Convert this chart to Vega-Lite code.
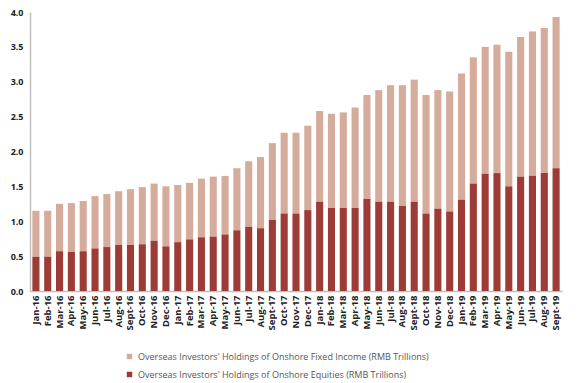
{
  "$schema": "https://vega.github.io/schema/vega-lite/v6.json",
  "autosize": {"type": "none"},
  "width": 532,
  "height": 279,
  "padding": {"left": 30, "top": 12, "right": 18, "bottom": 92},
  "background": "white",
  "config": {"view": {"stroke": null}, "font": "Open Sans"},
  "data": {"values": [
    {"month": "Jan-16", "Equities": 0.49, "Fixed Income": 0.66},
    {"month": "Feb-16", "Equities": 0.49, "Fixed Income": 0.66},
    {"month": "Mar-16", "Equities": 0.57, "Fixed Income": 0.68},
    {"month": "Apr-16", "Equities": 0.56, "Fixed Income": 0.70},
    {"month": "May-16", "Equities": 0.57, "Fixed Income": 0.72},
    {"month": "Jun-16", "Equities": 0.61, "Fixed Income": 0.75},
    {"month": "Jul-16", "Equities": 0.63, "Fixed Income": 0.76},
    {"month": "Aug-16", "Equities": 0.66, "Fixed Income": 0.77},
    {"month": "Sept-16", "Equities": 0.66, "Fixed Income": 0.80},
    {"month": "Oct-16", "Equities": 0.67, "Fixed Income": 0.82},
    {"month": "Nov-16", "Equities": 0.72, "Fixed Income": 0.82},
    {"month": "Dec-16", "Equities": 0.64, "Fixed Income": 0.86},
    {"month": "Jan-17", "Equities": 0.70, "Fixed Income": 0.82},
    {"month": "Feb-17", "Equities": 0.74, "Fixed Income": 0.81},
    {"month": "Mar-17", "Equities": 0.77, "Fixed Income": 0.84},
    {"month": "Apr-17", "Equities": 0.78, "Fixed Income": 0.86},
    {"month": "May-17", "Equities": 0.81, "Fixed Income": 0.84},
    {"month": "Jun-17", "Equities": 0.87, "Fixed Income": 0.89},
    {"month": "Jul-17", "Equities": 0.92, "Fixed Income": 0.94},
    {"month": "Aug-17", "Equities": 0.90, "Fixed Income": 1.02},
    {"month": "Sept-17", "Equities": 1.02, "Fixed Income": 1.10},
    {"month": "Oct-17", "Equities": 1.11, "Fixed Income": 1.16},
    {"month": "Nov-17", "Equities": 1.11, "Fixed Income": 1.16},
    {"month": "Dec-17", "Equities": 1.16, "Fixed Income": 1.21},
    {"month": "Jan-18", "Equities": 1.28, "Fixed Income": 1.30},
    {"month": "Feb-18", "Equities": 1.19, "Fixed Income": 1.35},
    {"month": "Mar-18", "Equities": 1.19, "Fixed Income": 1.37},
    {"month": "Apr-18", "Equities": 1.19, "Fixed Income": 1.44},
    {"month": "May-18", "Equities": 1.32, "Fixed Income": 1.49},
    {"month": "Jun-18", "Equities": 1.28, "Fixed Income": 1.60},
    {"month": "Jul-18", "Equities": 1.28, "Fixed Income": 1.67},
    {"month": "Aug-18", "Equities": 1.22, "Fixed Income": 1.73},
    {"month": "Sept-18", "Equities": 1.28, "Fixed Income": 1.75},
    {"month": "Oct-18", "Equities": 1.11, "Fixed Income": 1.70},
    {"month": "Nov-18", "Equities": 1.18, "Fixed Income": 1.70},
    {"month": "Dec-18", "Equities": 1.14, "Fixed Income": 1.72},
    {"month": "Jan-19", "Equities": 1.31, "Fixed Income": 1.81},
    {"month": "Feb-19", "Equities": 1.54, "Fixed Income": 1.81},
    {"month": "Mar-19", "Equities": 1.68, "Fixed Income": 1.82},
    {"month": "Apr-19", "Equities": 1.69, "Fixed Income": 1.84},
    {"month": "May-19", "Equities": 1.50, "Fixed Income": 1.93},
    {"month": "Jun-19", "Equities": 1.64, "Fixed Income": 2.00},
    {"month": "Jul-19", "Equities": 1.65, "Fixed Income": 2.07},
    {"month": "Aug-19", "Equities": 1.69, "Fixed Income": 2.08},
    {"month": "Sept-19", "Equities": 1.76, "Fixed Income": 2.17}
  ]},
  "transform": [{"fold": ["Fixed Income", "Equities"], "as": ["series", "value"]}],
  "mark": {"type": "bar"},
  "encoding": {
    "x": {
      "field": "month", "type": "nominal", "sort": null,
      "scale": {"paddingInner": 0.4, "paddingOuter": 0.2},
      "axis": {"title": null, "labelAngle": -90, "ticks": false, "domainColor": "#c0c0c0", "domainWidth": 1.5,
               "labelFontWeight": "bold", "labelFontSize": 9.5, "labelColor": "#222", "labelPadding": 4}
    },
    "y": {
      "field": "value", "type": "quantitative", "stack": "zero",
      "scale": {"domain": [0, 4]},
      "axis": {"title": null, "values": [0, 0.5, 1, 1.5, 2, 2.5, 3, 3.5, 4], "format": ".1f", "grid": false,
               "ticks": false, "domainColor": "#c0c0c0", "domainWidth": 1.5, "labelFontWeight": "bold",
               "labelFontSize": 9, "labelColor": "#222", "labelPadding": 7}
    },
    "color": {
      "field": "series", "type": "nominal",
      "scale": {"domain": ["Fixed Income", "Equities"], "range": ["#d5ab9b", "#9d3b36"]},
      "legend": {"title": null, "orient": "none", "legendX": 95, "legendY": 340, "symbolType": "square",
                 "symbolSize": 30, "labelFontSize": 9, "labelColor": "#555", "rowPadding": 8, "labelLimit": 0,
                 "labelExpr": "\"Overseas Investors' Holdings of Onshore \" + datum.label + \" (RMB Trillions)\""}
    },
    "order": {"field": "series", "sort": "ascending"}
  }
}
